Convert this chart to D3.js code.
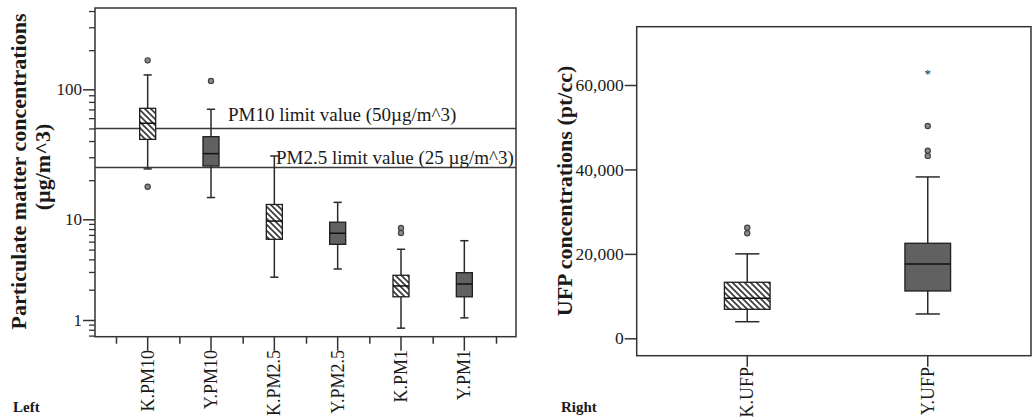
<!DOCTYPE html>
<html><head><meta charset="utf-8">
<script src="https://cdn.jsdelivr.net/npm/d3@7"></script>
<style>
body{margin:0;background:#fff}
svg{display:block}
text{font-family:"Liberation Serif","Times New Roman",serif;fill:#1a1a1a}
</style>
</head><body>
<svg id="chart" width="1032" height="418"></svg>
<script>
// ---------- data: left panel (particulate matter, log scale) ----------
const pmCategories   = ["K.PM10","Y.PM10","K.PM2.5","Y.PM2.5","K.PM1","Y.PM1"];
const pmWhiskerLow   = [24.4, 14.7, 2.66, 3.21, 0.83, 1.05];
const pmQ1           = [41.2, 25.7, 6.33, 5.64, 1.70, 1.70];
const pmMedian       = [54.8, 32.0, 9.6, 7.27, 2.18, 2.28];
const pmQ3           = [71.4, 43.2, 13.0, 9.36, 2.78, 2.95];
const pmWhiskerHigh  = [129, 70.2, 30.7, 13.5, 5.04, 6.13];
const pmOutliers     = [[167, 17.8], [116], [], [], [8.2, 7.3], []];
const pmHatched      = [true, false, true, false, true, false];
const pmTickValues   = [1, 10, 100];
const limitValues    = [50, 25];
const limitLabels    = ["PM10 limit value (50µg/m^3)", "PM2.5 limit value (25 µg/m^3)"];

// ---------- data: right panel (UFP, linear scale) ----------
const ufpCategories  = ["K.UFP","Y.UFP"];
const ufpWhiskerLow  = [3930, 5760];
const ufpQ1          = [6870, 11210];
const ufpMedian      = [9480, 17610];
const ufpQ3          = [13270, 22510];
const ufpWhiskerHigh = [20000, 38220];
const ufpOutliers    = [[26210, 24880], [50300, 44450, 43200]];
const ufpExtremes    = [[], [62800]];
const ufpHatched     = [true, false];
const ufpTickValues  = [0, 20000, 40000, 60000];

const svg = d3.select("#chart");
const defs = svg.append("defs");
const pat = defs.append("pattern").attr("id","hatch")
  .attr("patternUnits","userSpaceOnUse").attr("width",6).attr("height",6);
pat.append("rect").attr("width",6).attr("height",6).attr("fill","#fff");
pat.append("path").attr("d","M0,0L6,6M-3,3L3,9M3,-3L9,3")
  .attr("stroke","#3a3a3a").attr("stroke-width",1.7);

const darkFill = "#616161";
const lineCol = "#2a2a2a";

function drawBoxes(g, cats, lo, q1, med, q3, hi, hatched, x, y, boxFrac, capFrac){
  cats.forEach((c,i)=>{
    const cx = x(c) + x.bandwidth()/2;
    const bw = x.bandwidth()*boxFrac, cw = x.bandwidth()*capFrac;
    // whiskers
    g.append("line").attr("x1",cx).attr("x2",cx).attr("y1",y(hi[i])).attr("y2",y(q3[i]))
      .attr("stroke",lineCol).attr("stroke-width",1.5);
    g.append("line").attr("x1",cx).attr("x2",cx).attr("y1",y(q1[i])).attr("y2",y(lo[i]))
      .attr("stroke",lineCol).attr("stroke-width",1.5);
    [hi[i], lo[i]].forEach(v=>{
      g.append("line").attr("x1",cx-cw/2).attr("x2",cx+cw/2).attr("y1",y(v)).attr("y2",y(v))
        .attr("stroke",lineCol).attr("stroke-width",1.5);
    });
    g.append("rect").attr("x",cx-bw/2).attr("width",bw)
      .attr("y",y(q3[i])).attr("height",y(q1[i])-y(q3[i]))
      .attr("fill",hatched[i]?"url(#hatch)":darkFill)
      .attr("stroke","#1e1e1e").attr("stroke-width",1.3);
    g.append("line").attr("x1",cx-bw/2).attr("x2",cx+bw/2).attr("y1",y(med[i])).attr("y2",y(med[i]))
      .attr("stroke","#111").attr("stroke-width",1.5);
  });
}
function drawOutliers(g, cats, outs, x, y){
  cats.forEach((c,i)=>{
    const cx = x(c) + x.bandwidth()/2;
    outs[i].forEach(v=>{
      g.append("circle").attr("cx",cx).attr("cy",y(v)).attr("r",2.6)
        .attr("fill","#8a8a8a").attr("stroke","#444").attr("stroke-width",1.2);
    });
  });
}

// ================= LEFT PANEL =================
const L = {left:95, right:516, top:8, bottom:336.7};
const xL = d3.scaleBand().domain(pmCategories).range([116,496]).padding(0);
const yL = d3.scaleLog().domain(pmTickValues).range([320, 219.3, 89.3]);
const gL = svg.append("g");

// minor ticks
const yMin = yL.invert(L.bottom), yMax = yL.invert(L.top);
const minorVals = [];
for (let k=-1;k<=2;k++) for (let m=2;m<=9;m++){ const v=m*Math.pow(10,k); if(v>=yMin && v<=yMax) minorVals.push(v); }
gL.append("g").attr("transform",`translate(${L.left},0)`)
  .call(d3.axisLeft(yL).tickValues(minorVals).tickSize(6).tickFormat(""))
  .call(a=>a.select(".domain").remove())
  .selectAll("line").attr("stroke","#333").attr("stroke-width",1.3);
gL.append("g").attr("transform",`translate(${L.left},0)`)
  .call(d3.axisLeft(yL).tickValues(pmTickValues).tickSize(12).tickPadding(1).tickFormat(d3.format("d")))
  .call(a=>a.select(".domain").remove())
  .call(a=>a.selectAll("line").attr("stroke","#333").attr("stroke-width",1.5))
  .call(a=>a.selectAll("text").attr("font-size",17).attr("fill","#1a1a1a")
        .style("font-family","'Liberation Serif',serif"));

// x axis ticks: boundaries (short) + category centers (long)
const xIdx = d3.scaleLinear().domain([0, pmCategories.length]).range([116,496]);
gL.append("g").attr("transform",`translate(0,${L.bottom})`)
  .call(d3.axisBottom(xIdx).tickValues(d3.range(pmCategories.length+1)).tickSize(7).tickFormat(""))
  .call(a=>a.select(".domain").remove())
  .selectAll("line").attr("stroke","#333").attr("stroke-width",1.5);
gL.append("g").attr("transform",`translate(0,${L.bottom})`)
  .call(d3.axisBottom(xL).tickSize(14).tickFormat(""))
  .call(a=>a.select(".domain").remove())
  .selectAll("line").attr("stroke","#333").attr("stroke-width",1.5);
pmCategories.forEach(c=>{
  const cx = xL(c)+xL.bandwidth()/2;
  gL.append("text").attr("transform",`translate(${cx+6},350) rotate(-90)`)
    .attr("text-anchor","end").attr("font-size",18).text(c);
});

// limit lines
limitValues.forEach((v,i)=>{
  gL.append("line").attr("x1",L.left).attr("x2",L.right).attr("y1",yL(v)).attr("y2",yL(v))
    .attr("stroke","#3a3a3a").attr("stroke-width",1.5);
});
gL.append("text").attr("x",228).attr("y",121).attr("font-size",19).text(limitLabels[0]);
gL.append("text").attr("x",276).attr("y",164).attr("font-size",19).text(limitLabels[1]);

drawBoxes(gL, pmCategories, pmWhiskerLow, pmQ1, pmMedian, pmQ3, pmWhiskerHigh, pmHatched, xL, yL, 0.253, 0.13);
drawOutliers(gL, pmCategories, pmOutliers, xL, yL);

gL.append("rect").attr("x",L.left).attr("y",L.top).attr("width",L.right-L.left).attr("height",L.bottom-L.top)
  .attr("fill","none").attr("stroke","#333").attr("stroke-width",1.5);

gL.append("text").attr("transform","translate(26,171.5) rotate(-90)").attr("text-anchor","middle")
  .attr("font-size",22).attr("font-weight","bold").text("Particulate matter concentrations");
gL.append("text").attr("transform","translate(50,167) rotate(-90)").attr("text-anchor","middle")
  .attr("font-size",22).attr("font-weight","bold").text("(µg/m^3)");
gL.append("text").attr("x",13).attr("y",412).attr("font-size",15).attr("font-weight","bold").text("Left");

// ================= RIGHT PANEL =================
const R = {left:636.7, right:1031, top:26.7, bottom:355.7};
const xR = d3.scaleBand().domain(ufpCategories).range([657,1018]).padding(0);
const yR = d3.scaleLinear().domain([0,60000]).range([338.3,85]);
const gR = svg.append("g");

gR.append("g").attr("transform",`translate(${R.left},0)`)
  .call(d3.axisLeft(yR).tickValues(ufpTickValues).tickSize(12).tickPadding(1).tickFormat(d3.format(",")))
  .call(a=>a.select(".domain").remove())
  .call(a=>a.selectAll("line").attr("stroke","#333").attr("stroke-width",1.5))
  .call(a=>a.selectAll("text").attr("font-size",17.5).attr("fill","#1a1a1a")
        .style("font-family","'Liberation Serif',serif"));
gR.append("g").attr("transform",`translate(0,${R.bottom})`)
  .call(d3.axisBottom(xR).tickSize(11).tickFormat(""))
  .call(a=>a.select(".domain").remove())
  .selectAll("line").attr("stroke","#333").attr("stroke-width",1.5);
ufpCategories.forEach(c=>{
  const cx = xR(c)+xR.bandwidth()/2;
  gR.append("text").attr("transform",`translate(${cx+6},367) rotate(-90)`)
    .attr("text-anchor","end").attr("font-size",18).text(c);
});

drawBoxes(gR, ufpCategories, ufpWhiskerLow, ufpQ1, ufpMedian, ufpQ3, ufpWhiskerHigh, ufpHatched, xR, yR, 0.253, 0.134);
drawOutliers(gR, ufpCategories, ufpOutliers, xR, yR);
ufpCategories.forEach((c,i)=>{
  const cx = xR(c)+xR.bandwidth()/2;
  ufpExtremes[i].forEach(v=>{
    gR.append("text").attr("x",cx).attr("y",yR(v)+5).attr("text-anchor","middle")
      .attr("font-size",13).attr("fill","#777").text("*");
  });
});

gR.append("rect").attr("x",R.left).attr("y",R.top).attr("width",R.right-R.left).attr("height",R.bottom-R.top)
  .attr("fill","none").attr("stroke","#333").attr("stroke-width",1.5);

gR.append("text").attr("transform","translate(572,191) rotate(-90)").attr("text-anchor","middle")
  .attr("font-size",22).attr("font-weight","bold").text("UFP concentrations (pt/cc)");
gR.append("text").attr("x",561).attr("y",412).attr("font-size",15).attr("font-weight","bold").text("Right");
</script>
</body></html>
